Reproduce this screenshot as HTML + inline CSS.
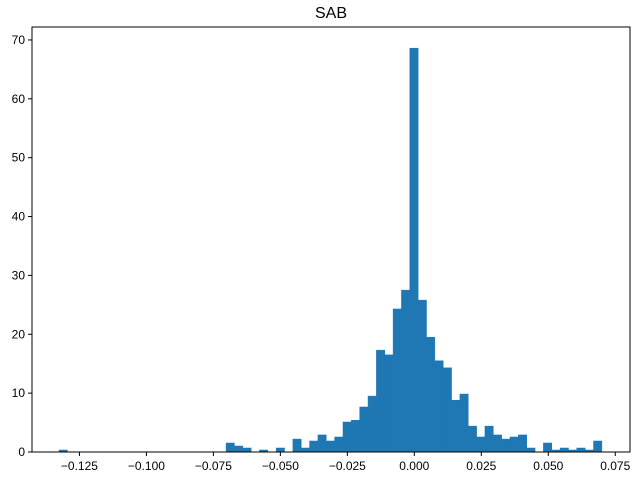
<!DOCTYPE html>
<html><head><meta charset="utf-8"><style>
body{margin:0;background:#fff}
svg{display:block;font-family:"Liberation Sans","DejaVu Sans",sans-serif}
</style></head><body>
<svg id="chart" width="640" height="480">
<rect width="640" height="480" fill="#fff"/>
<text x="331" y="18" text-anchor="middle" font-size="16">SAB</text>
<g id="bars"></g>
<g id="axes"></g>
</svg>
<script>
const binStart = -0.1326;
const binEnd = 0.0700;
const counts = [0.34,0,0,0,0,0,0,0,0,0,0,0,0,0,0,0,0,0,0,0,
1.53,1.02,0.68,0,0.34,0,0.68,0,2.2,0.68,1.87,2.9,1.87,2.55,5.1,5.4,7.65,9.5,17.3,16.5,
24.3,27.5,68.6,25.8,19.5,15.5,14.3,8.8,9.85,4.4,2.55,4.4,2.9,2.2,2.55,2.9,0.68,0,1.53,0.34,
0.68,0.34,0.68,0.34,1.87];
const xTicks = [-0.125,-0.100,-0.075,-0.050,-0.025,0.000,0.025,0.050,0.075];
const xTickLabels = ["\u22120.125","\u22120.100","\u22120.075","\u22120.050","\u22120.025","0.000","0.025","0.050","0.075"];
const yTicks = [0,10,20,30,40,50,60,70];

const L=32,R=630,T=27,B=452;
const xMin=-0.1427,xMax=0.0805,yMax=72.2;
const xs=v=>L+(v-xMin)/(xMax-xMin)*(R-L);
const ys=v=>B-v/yMax*(B-T);
const NS="http://www.w3.org/2000/svg";
const bars=document.getElementById('bars');
const w=(binEnd-binStart)/counts.length;
counts.forEach((c,i)=>{
  if(c<=0)return;
  const r=document.createElementNS(NS,'rect');
  const x0=xs(binStart+i*w),x1=xs(binStart+(i+1)*w);
  r.setAttribute('x',x0);r.setAttribute('width',x1-x0);
  r.setAttribute('y',ys(c));r.setAttribute('height',B-ys(c));
  r.setAttribute('fill','#1f77b4');
  r.setAttribute('stroke','#1f77b4');
  r.setAttribute('stroke-width','0.5');
  
  
  bars.appendChild(r);
});
const ax=document.getElementById('axes');
const frame=document.createElementNS(NS,'rect');
frame.setAttribute('x',L);frame.setAttribute('y',T);frame.setAttribute('width',R-L);frame.setAttribute('height',B-T);
frame.setAttribute('fill','none');frame.setAttribute('stroke','#000');frame.setAttribute('stroke-width','1');


ax.appendChild(frame);
xTicks.forEach((t,i)=>{
  const x=xs(t);
  const l=document.createElementNS(NS,'line');
  l.setAttribute('x1',x);l.setAttribute('x2',x);l.setAttribute('y1',B);l.setAttribute('y2',B+4);l.setAttribute('stroke','#000');
  
  
  ax.appendChild(l);
  const tx=document.createElementNS(NS,'text');
  tx.setAttribute('x',x);tx.setAttribute('y',B+18);tx.setAttribute('text-anchor','middle');tx.setAttribute('font-size','12');
  tx.textContent=xTickLabels[i];
  
  
  ax.appendChild(tx);
});
yTicks.forEach(t=>{
  const y=ys(t);
  const l=document.createElementNS(NS,'line');
  l.setAttribute('x1',L-4);l.setAttribute('x2',L);l.setAttribute('y1',y);l.setAttribute('y2',y);l.setAttribute('stroke','#000');
  
  
  ax.appendChild(l);
  const tx=document.createElementNS(NS,'text');
  tx.setAttribute('x',L-7);tx.setAttribute('y',y+4);tx.setAttribute('text-anchor','end');tx.setAttribute('font-size','12');
  tx.textContent=String(t);
  
  
  ax.appendChild(tx);
});
</script>
</body></html>
